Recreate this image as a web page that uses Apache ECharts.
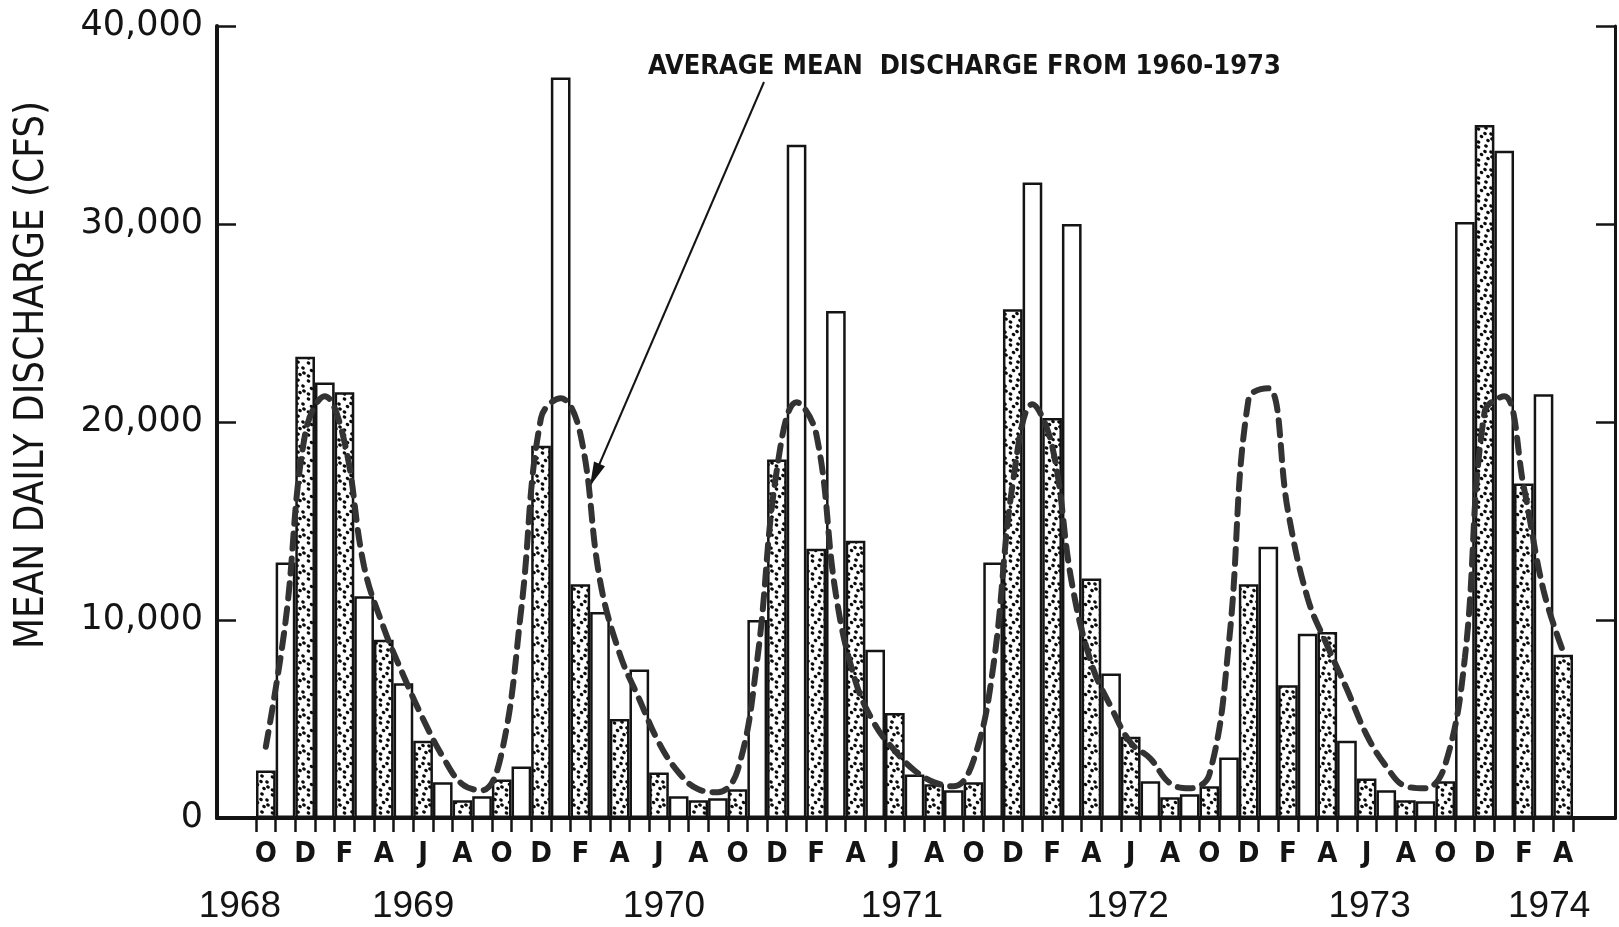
<!DOCTYPE html>
<html>
<head>
<meta charset="utf-8">
<title>Mean daily discharge 1968-1974</title>
<script src="https://cdn.jsdelivr.net/npm/echarts@6/dist/echarts.min.js"></script>
<style>
    html, body { margin: 0; padding: 0; background: #fff; }
    #chart { width: 1619px; height: 927px; }
</style>
</head>
<body>
<div id="chart"></div>
<script>
// monthly mean daily discharge (cfs), by water year Oct..Sep
const wy1969 = [2400, 12900, 23300, 22000, 21500, 11200, 9000, 6800, 3900, 1800, 900, 1100];
const wy1970 = [1950, 2600, 18800, 37400, 11800, 10400, 5000, 7500, 2300, 1100, 900, 1000];
const wy1971 = [1450, 10000, 18100, 34000, 13600, 25600, 14000, 8500, 5300, 2200, 1700, 1400];
const wy1972 = [1800, 12900, 25700, 32100, 20200, 30000, 12100, 7300, 4100, 1850, 1050, 1200];
const wy1973 = [1600, 3050, 11800, 13700, 6700, 9300, 9400, 3900, 2000, 1400, 900, 850];
const wy1974 = [1850, 30100, 35000, 33700, 16900, 21400, 8250];

// average mean discharge 1960-1973 (dashed curve), as drawn under each water year
const avg1969 = [3600, 9900, 19400, 21300, 19000, 12700, 9600, 7200, 5000, 3100, 1700, 1400];
const avg1970 = [3300, 10600, 20200, 21200, 19400, 12000, 8300, 6000, 3800, 2300, 1450, 1300];
const avg1971 = [2400, 8000, 17600, 21000, 19400, 11300, 6900, 4700, 3400, 2400, 1800, 1600];
const avg1972 = [2900, 7600, 16900, 20900, 18800, 11900, 7800, 5600, 3800, 3000, 1750, 1500];
const avg1973 = [2200, 8900, 21200, 21700, 15500, 11100, 8700, 6500, 4200, 2600, 1600, 1500];
const avg1974 = [2700, 8100, 20500, 21300, 16700, 11500, 8400];

const monthNames = ['Oct', 'Nov', 'Dec', 'Jan', 'Feb', 'Mar', 'Apr', 'May', 'Jun', 'Jul', 'Aug', 'Sep'];
const yTickLabels = ['0', '10,000', '20,000', '30,000', '40,000'];
const yearLabels = ['1968', '1969', '1970', '1971', '1972', '1973', '1974'];

const waterYears = [wy1969, wy1970, wy1971, wy1972, wy1973, wy1974];
const averages = [avg1969, avg1970, avg1971, avg1972, avg1973, avg1974];

const months = [];
const discharge = [];
const average = [];
waterYears.forEach((wy, k) => {
    wy.forEach((v, m) => {
        const calYear = 1968 + k + (m >= 3 ? 1 : 0);
        months.push(monthNames[m] + ' ' + calYear);
        discharge.push({ value: v, stippled: m % 2 === 0 });
        average.push(averages[k][m]);
    });
});

// layout: month under which each year label sits, and a sideways nudge (px)
const yearUnder = ['Oct 1968', 'Jun 1969', 'Jun 1970', 'Jun 1971', 'Jun 1972', 'Jun 1973', 'Apr 1974'];
const yearNudge = [-26, -10, 5, 7, -3, 3, -14];

const ink = '#141414';
const narrow = "'Liberation Sans Narrow', 'DejaVu Sans Condensed', 'Liberation Sans', sans-serif";

// stippled fill
const stippleTile = () => {
    const c = document.createElement('canvas');
    c.width = 18;
    c.height = 18;
    const g = c.getContext('2d');
    g.fillStyle = '#fff';
    g.fillRect(0, 0, 18, 18);
    g.fillStyle = '#0a0a0a';
    [[2.5, 3], [10, 2], [15, 8], [5.5, 10.5], [12, 14.5], [2.5, 16], [9, 7.5], [16, 13]].forEach(([x, y]) => {
        g.beginPath();
        g.ellipse(x, y, 1.9, 1.5, 0.4, 0, Math.PI * 2);
        g.fill();
    });
    return c;
};
const stipple = { image: stippleTile(), repeat: 'repeat' };

// annotation arrow
const arrowFrom = [764, 82];
const arrowTip = [590, 486];
const arrowHead = () => {
    const dx = arrowTip[0] - arrowFrom[0];
    const dy = arrowTip[1] - arrowFrom[1];
    const len = Math.sqrt(dx * dx + dy * dy);
    const ux = dx / len, uy = dy / len;
    const bx = arrowTip[0] - ux * 24, by = arrowTip[1] - uy * 24;
    return [arrowTip, [bx + uy * 6, by - ux * 6], [bx - uy * 6, by + ux * 6]];
};

const yearRich = {};
yearLabels.forEach((y, k) => {
    const n = yearNudge[k];
    yearRich['y' + k] = {
        fontSize: 37,
        fontFamily: "'Liberation Sans', sans-serif",
        color: ink,
        padding: n < 0 ? [0, -2 * n, 0, 0] : [0, 0, 0, 2 * n]
    };
});

const chart = echarts.init(document.getElementById('chart'));

const option = {
    animation: false,
    backgroundColor: '#fff',
    grid: [
        { left: 217, right: 4, top: 26, bottom: 109 }, // frame
        { left: 256, right: 46, top: 26, bottom: 109 } // bars
    ],
    xAxis: [
        {
            gridIndex: 0,
            type: 'category',
            data: [''],
            position: 'bottom',
            axisLine: { lineStyle: { color: ink, width: 4 } },
            axisTick: { show: false },
            axisLabel: { show: false }
        },
        {
            gridIndex: 0,
            type: 'category',
            data: [''],
            position: 'top',
            axisLine: { lineStyle: { color: ink, width: 3 } },
            axisTick: { show: false },
            axisLabel: { show: false }
        },
        {
            gridIndex: 1,
            type: 'category',
            data: months,
            position: 'bottom',
            axisLine: { show: false },
            axisTick: { show: true, interval: 0, length: 14, lineStyle: { color: ink, width: 2.5 } },
            axisLabel: {
                interval: 1,
                margin: 22,
                formatter: (v) => v.charAt(0),
                fontSize: 29,
                fontWeight: 'bold',
                fontFamily: narrow,
                color: ink
            }
        },
        {
            gridIndex: 1,
            type: 'category',
            data: months,
            position: 'bottom',
            axisLine: { show: false },
            axisTick: { show: false },
            axisLabel: {
                interval: 0,
                margin: 70,
                formatter: (v) => {
                    const k = yearUnder.indexOf(v);
                    return k < 0 ? '' : '{y' + k + '|' + yearLabels[k] + '}';
                },
                rich: yearRich
            }
        }
    ],
    yAxis: [
        {
            gridIndex: 0,
            type: 'value',
            min: 0,
            max: 40000,
            interval: 10000,
            position: 'left',
            axisLine: { show: true, lineStyle: { color: ink, width: 4 } },
            axisTick: { show: true, inside: true, length: 19, lineStyle: { color: ink, width: 2.5 } },
            axisLabel: {
                margin: 14,
                formatter: (v) => yTickLabels[v / 10000],
                fontSize: 35,
                fontFamily: "'DejaVu Sans', sans-serif",
                color: ink
            },
            splitLine: { show: false }
        },
        {
            gridIndex: 0,
            type: 'value',
            min: 0,
            max: 40000,
            interval: 10000,
            position: 'right',
            axisLine: { show: true, lineStyle: { color: ink, width: 3 } },
            axisTick: { show: true, inside: true, length: 19, lineStyle: { color: ink, width: 2.5 } },
            axisLabel: { show: false },
            splitLine: { show: false }
        },
        { gridIndex: 1, type: 'value', min: 0, max: 40000, show: false }
    ],
    series: [
        {
            type: 'bar',
            xAxisIndex: 2,
            yAxisIndex: 2,
            barCategoryGap: '0%',
            data: discharge.map((d) => ({
                value: d.value,
                itemStyle: { color: d.stippled ? stipple : '#fff' }
            })),
            itemStyle: { borderColor: ink, borderWidth: 2.5 }
        },
        {
            type: 'line',
            xAxisIndex: 2,
            yAxisIndex: 2,
            data: average,
            smooth: 0.4,
            symbol: 'none',
            z: 5,
            lineStyle: { color: '#333', width: 6, type: [15, 10], cap: 'round' }
        }
    ],
    graphic: [
        {
            type: 'text',
            x: 33,
            y: 375,
            rotation: Math.PI / 2,
            style: {
                text: 'MEAN DAILY DISCHARGE (CFS)',
                fontSize: 40,
                fontFamily: narrow,
                fill: ink,
                align: 'center',
                verticalAlign: 'middle'
            }
        },
        {
            type: 'text',
            x: 648,
            y: 67,
            style: {
                text: 'AVERAGE MEAN  DISCHARGE FROM 1960-1973',
                fontSize: 27,
                fontWeight: 'bold',
                fontFamily: narrow,
                fill: ink,
                align: 'left',
                verticalAlign: 'middle'
            }
        },
        {
            type: 'line',
            shape: { x1: arrowFrom[0], y1: arrowFrom[1], x2: arrowTip[0], y2: arrowTip[1] },
            style: { stroke: ink, lineWidth: 2 }
        },
        {
            type: 'polygon',
            shape: { points: arrowHead() },
            style: { fill: ink }
        }
    ]
};

chart.setOption(option);
</script>
</body>
</html>
